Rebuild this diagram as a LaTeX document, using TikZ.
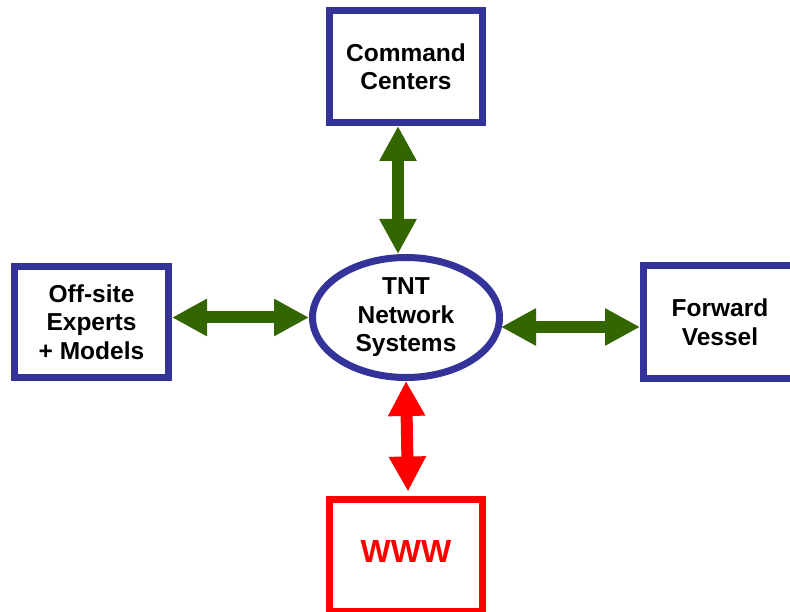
\documentclass[tikz,border=0pt]{standalone}
\usepackage{fontspec}
\setmainfont{Liberation Sans}
\usetikzlibrary{arrows.meta,shapes.geometric}
\definecolor{boxblue}{HTML}{333399}
\definecolor{arrgreen}{HTML}{336600}
\definecolor{wwwred}{HTML}{FF0000}
\tikzset{
  lbl/.style={font=\bfseries\fontsize{24.5}{28.5}\selectfont, align=center},
  bbox/.style={draw=boxblue, line width=7pt, fill=white, inner sep=0pt,
     minimum width=153pt, minimum height=112pt, lbl},
  rbox/.style={draw=wwwred, line width=7pt, fill=white, inner sep=0pt,
     minimum width=153pt, minimum height=112pt, text=wwwred,
     text height=23pt, text depth=9pt,
     font=\bfseries\fontsize{32}{36}\selectfont},
  hub/.style={draw=boxblue, line width=7pt, fill=white, ellipse, inner sep=0pt,
     minimum width=187pt, minimum height=120pt, lbl},
  darrow/.style={line width=12pt, draw=#1,
     {Triangle[width=35pt,length=35pt,fill=#1]}-{Triangle[width=35pt,length=35pt,fill=#1]}}
}
\begin{document}
\begin{tikzpicture}[x=1pt,y=-1pt]
\useasboundingbox (0,0) rectangle (790,612);
\begin{scope}
\clip (0,0) rectangle (790,612);
\node[bbox] (cc) at (406,66.5) {Command\\Centers};
\node[bbox, minimum width=154pt, minimum height=111pt] (os) at (91.5,322) {Off-site\\Experts\\+ Models};
\node[bbox] (fv) at (720,322) {Forward\\Vessel};
\node[rbox] (www) at (406,555) {WWW};
\node[hub] (tnt) at (406,317.5) {TNT\\Network\\Systems};
\draw[darrow=arrgreen] ([xshift=-8pt]cc.south) -- ([xshift=-8pt]tnt.north);
\draw[darrow=arrgreen] (os.east |- tnt.west) -- (tnt.west);
\draw[darrow=arrgreen] ([yshift=-9.5pt,xshift=-2pt]tnt.east) -- ([yshift=-5pt]fv.west);
\draw[darrow=wwwred] (tnt.south) -- ([xshift=2pt,yshift=4pt]www.north);
\end{scope}
\end{tikzpicture}
\end{document}
